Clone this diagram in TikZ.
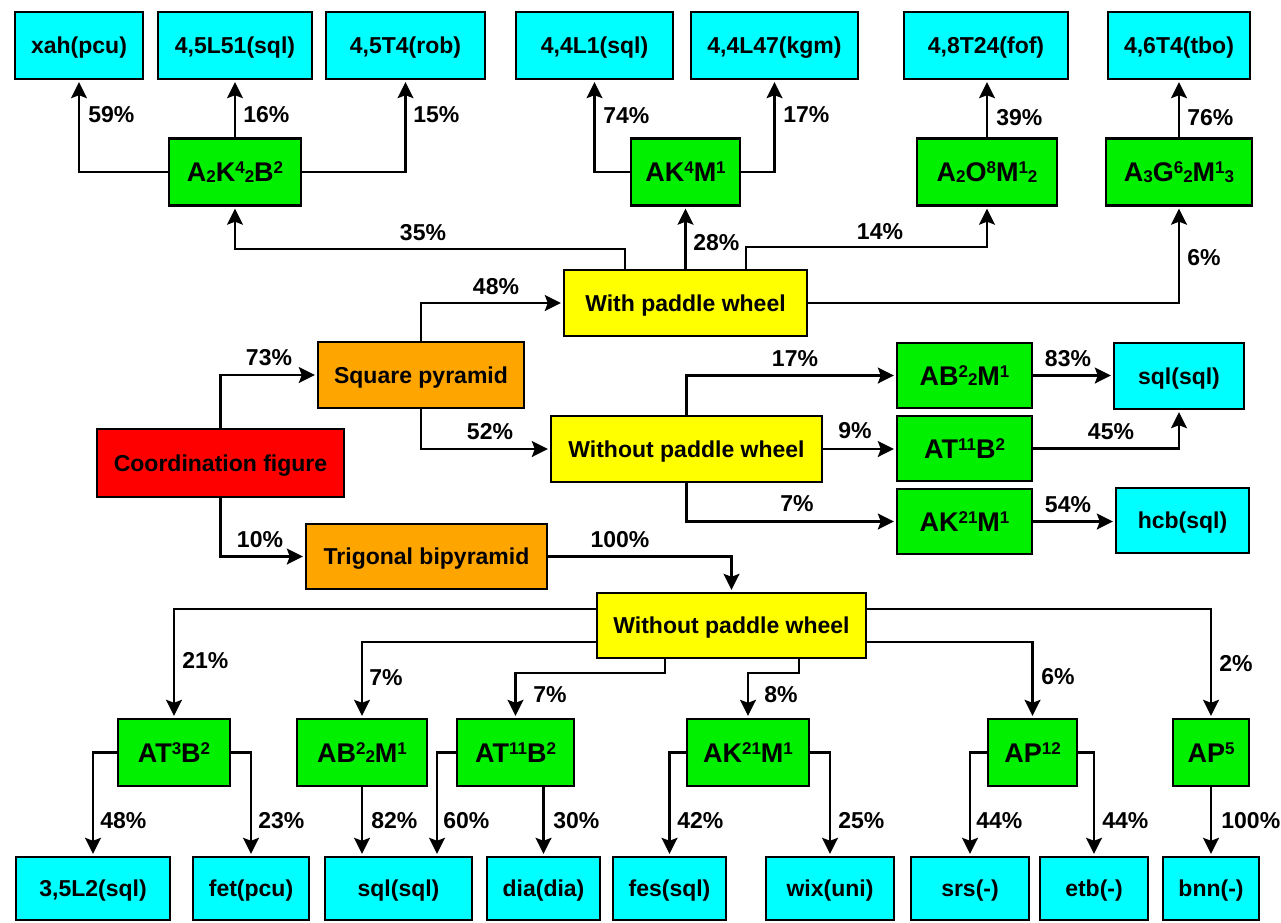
\documentclass[tikz,border=0pt]{standalone}
\usepackage{fontspec}
\setmainfont{Liberation Sans}
\usetikzlibrary{arrows.meta}
\definecolor{netcyan}{RGB}{0,255,255}
\definecolor{topogreen}{RGB}{0,240,0}
\definecolor{pwyellow}{RGB}{255,255,0}
\definecolor{geomorange}{RGB}{255,165,0}
\definecolor{rootred}{RGB}{255,0,0}
\newcommand{\labfont}{\fontsize{11.5pt}{13pt}\selectfont\bfseries}
\newcommand{\topofont}{\fontsize{13.5pt}{15pt}\selectfont\bfseries}
\newcommand{\supx}[1]{\raisebox{4pt}{\fontsize{8.5pt}{9pt}\selectfont\bfseries #1}}
\newcommand{\subx}[1]{\raisebox{-0.3pt}{\fontsize{8.5pt}{9pt}\selectfont\bfseries #1}}
\tikzset{>={Stealth[length=8pt,width=8pt,inset=1.5pt]}}

\begin{document}
\begin{tikzpicture}[x=0.5pt, y=-0.5pt,
	box/.style={draw, line width=1.2pt, inner sep=0pt, font=\labfont, text height=8.2pt, text depth=0pt},
	net/.style={box, fill=netcyan},
	topo/.style={box, fill=topogreen, font=\topofont, text height=9.8pt, minimum height=33.5pt},
	wheel/.style={box, fill=pwyellow},
	geom/.style={box, fill=geomorange},
	link/.style={->, line width=1.1pt, shorten >=1pt},
	pct/.style={font=\labfont, inner sep=0pt, text height=8.2pt, text depth=0pt}]

	\path[use as bounding box, fill=white] (0,0) rectangle (1281,922);

	% coordination figure and its branches
	\node[box, fill=rootred, minimum width=123.5pt, minimum height=34pt] (cf) at (220.5,463) {Coordination figure};
	\node[geom, minimum width=103pt, minimum height=33pt] (sp) at (421,375) {Square pyramid};
	\node[geom, minimum width=120.5pt, minimum height=32.5pt] (tb) at (426.5,556.5) {Trigonal bipyramid};
	\node[wheel, minimum width=121.5pt, minimum height=33pt] (wpw) at (685.5,303) {With paddle wheel};
	\node[wheel, minimum width=135.5pt, minimum height=33pt] (wo1) at (686.5,449) {Without paddle wheel};
	\node[wheel, minimum width=134.5pt, minimum height=32.5pt] (wo2) at (731.5,625.5) {Without paddle wheel};

	% upper topologies
	\node[topo, minimum width=66pt] (g1) at (235,172) {A\subx{2}K\supx{4}\subx{2}B\supx{2}};
	\node[topo, minimum width=54.5pt] (g2) at (685.5,172) {AK\supx{4}M\supx{1}};
	\node[topo, minimum width=70pt] (g3) at (987,172) {A\subx{2}O\supx{8}M\supx{1}\subx{2}};
	\node[topo, minimum width=73pt] (g4) at (1179,172) {A\subx{3}G\supx{6}\subx{2}M\supx{1}\subx{3}};

	\node[net, minimum width=64pt, minimum height=33.5pt] (t1) at (79,45.5) {xah(pcu)};
	\node[net, minimum width=77pt, minimum height=33.5pt] (t2) at (235,45.5) {4,5L51(sql)};
	\node[net, minimum width=79.5pt, minimum height=33.5pt] (t3) at (405.5,45.5) {4,5T4(rob)};
	\node[net, minimum width=78.5pt, minimum height=33.5pt] (t4) at (594.5,45.5) {4,4L1(sql)};
	\node[net, minimum width=83.5pt, minimum height=33.5pt] (t5) at (774.5,45.5) {4,4L47(kgm)};
	\node[net, minimum width=82pt, minimum height=33.5pt] (t6) at (986,45.5) {4,8T24(fof)};
	\node[net, minimum width=71pt, minimum height=33.5pt] (t7) at (1179,45.5) {4,6T4(tbo)};

	% middle topologies
	\node[topo, minimum width=67.5pt, minimum height=32.5pt] (m1) at (964.5,375.5) {AB\supx{2}\subx{2}M\supx{1}};
	\node[topo, minimum width=67.5pt, minimum height=32.5pt] (m2) at (964.5,448.5) {AT\supx{11}B\supx{2}};
	\node[topo, minimum width=67.5pt, minimum height=32.5pt] (m3) at (964.5,521.5) {AK\supx{21}M\supx{1}};
	\node[net, minimum width=65pt, minimum height=33pt] (r1) at (1179,376) {sql(sql)};
	\node[net, minimum width=66.5pt, minimum height=32.5pt] (r2) at (1182.5,520.5) {hcb(sql)};

	% lower topologies
	\node[topo, minimum width=56pt] (b1) at (174,752.5) {AT\supx{3}B\supx{2}};
	\node[topo, minimum width=65pt] (b2) at (362,752.5) {AB\supx{2}\subx{2}M\supx{1}};
	\node[topo, minimum width=58.5pt] (b3) at (515.5,752.5) {AT\supx{11}B\supx{2}};
	\node[topo, minimum width=61pt] (b4) at (748,752.5) {AK\supx{21}M\supx{1}};
	\node[topo, minimum width=44.5pt] (b5) at (1032.5,752.5) {AP\supx{12}};
	\node[topo, minimum width=38pt] (b6) at (1211,752.5) {AP\supx{5}};

	\node[net, minimum width=77pt, minimum height=31.5pt] (c1) at (93,888.5) {3,5L2(sql)};
	\node[net, minimum width=58pt, minimum height=31.5pt] (c2) at (251,888.5) {fet(pcu)};
	\node[net, minimum width=73.5pt, minimum height=31.5pt] (c3) at (398.5,888.5) {sql(sql)};
	\node[net, minimum width=56.5pt, minimum height=31.5pt] (c4) at (543.5,888.5) {dia(dia)};
	\node[net, minimum width=56.5pt, minimum height=31.5pt] (c5) at (669.5,888.5) {fes(sql)};
	\node[net, minimum width=64pt, minimum height=31.5pt] (c6) at (830,888.5) {wix(uni)};
	\node[net, minimum width=59pt, minimum height=31.5pt] (c7) at (970,888.5) {srs(-)};
	\node[net, minimum width=54pt, minimum height=31.5pt] (c8) at (1094,888.5) {etb(-)};
	\node[net, minimum width=48pt, minimum height=31.5pt] (c9) at (1211,888.5) {bnn(-)};

	% connectors
	\draw[link] (cf.north) |- (sp.west);
	\draw[link] (cf.south) |- (tb.west);
	\draw[link] (sp.north) |- (wpw.west);
	\draw[link] (sp.south) |- (wo1.west);
	\draw[link] (tb.east) -| (wo2.north);

	\draw[link] (625,0 |- wpw.north) -- (625,249) -| (g1.south);
	\draw[link] (wpw.north) -- (g2.south);
	\draw[link] (746,0 |- wpw.north) -- (746,247) -| (g3.south);
	\draw[link] (wpw.east) -| (g4.south);

	\draw[link] (g1.west) -| (t1.south);
	\draw[link] (g1.north) -- (t2.south);
	\draw[link] (g1.east) -| (t3.south);
	\draw[link] (g2.west) -| (t4.south);
	\draw[link] (g2.east) -| (t5.south);
	\draw[link] (g3.north) -- (g3.north |- t6.south);
	\draw[link] (g4.north) -- (t7.south);

	\draw[link] (wo1.north) |- (m1.west);
	\draw[link] (wo1.east) -- (wo1.east -| m2.west);
	\draw[link] (wo1.south) |- (m3.west);
	\draw[link] (m1.east) -- (m1.east -| r1.west);
	\draw[link] (m2.east) -| (r1.south);
	\draw[link] (m3.east) -- (m3.east -| r2.west);

	\draw[link] (wo2.west |- 0,609) -| (b1.north);
	\draw[link] (wo2.west |- 0,642) -| (b2.north);
	\draw[link] (665,0 |- wo2.south) -- (665,673) -| (b3.north);
	\draw[link] (799,0 |- wo2.south) -- (799,673) -| (b4.north);
	\draw[link] (wo2.east |- 0,642) -| (b5.north);
	\draw[link] (wo2.east |- 0,609) -| (b6.north);

	\draw[link] (b1.west) -| (c1.north);
	\draw[link] (b1.east) -| (c2.north);
	\draw[link] (b2.south) -- (b2.south |- c3.north);
	\draw[link] (b3.west) -| (437,0 |- c3.north);
	\draw[link] (c4.north |- b3.south) -- (c4.north);
	\draw[link] (b4.west) -| (c5.north);
	\draw[link] (b4.east) -| (c6.north);
	\draw[link] (b5.west) -| (c7.north);
	\draw[link] (b5.east) -| (c8.north);
	\draw[link] (b6.south) -- (c9.north);

	% percentages
	\node[pct, anchor=west] (p59) at (88,114.5) {59\%};
	\node[pct, anchor=west] (p16) at (243,114.5) {16\%};
	\node[pct, anchor=west] (p15) at (413,114.5) {15\%};
	\node[pct, anchor=west] (p74) at (603,115) {74\%};
	\node[pct, anchor=west] (p17a) at (783,114) {17\%};
	\node[pct, anchor=west] (p39) at (996,117) {39\%};
	\node[pct, anchor=west] (p76) at (1187,117) {76\%};
	\node[pct, anchor=west] (p28) at (693,242) {28\%};
	\node[pct] (p35) at (423,232) {35\%};
	\node[pct] (p14) at (880,231) {14\%};
	\node[pct, anchor=west] (p6a) at (1187,257) {6\%};
	\node[pct] (p48a) at (496,286) {48\%};
	\node[pct] (p73) at (269,357) {73\%};
	\node[pct] (p52) at (490,431) {52\%};
	\node[pct] (p10) at (260,539) {10\%};
	\node[pct] (p100a) at (620,539) {100\%};
	\node[pct] (p17b) at (795,358) {17\%};
	\node[pct] (p9) at (855,430) {9\%};
	\node[pct] (p7a) at (797,503) {7\%};
	\node[pct] (p83) at (1068,358) {83\%};
	\node[pct] (p45a) at (1111,431) {45\%};
	\node[pct] (p54) at (1068,504) {54\%};
	\node[pct, anchor=west] (p21) at (182,660) {21\%};
	\node[pct, anchor=west] (p7b) at (369,677) {7\%};
	\node[pct, anchor=west] (p7c) at (533,694) {7\%};
	\node[pct, anchor=west] (p8) at (764,694) {8\%};
	\node[pct, anchor=west] (p6b) at (1041,676) {6\%};
	\node[pct, anchor=west] (p2) at (1219,663) {2\%};
	\node[pct, anchor=west] (p48b) at (100,820) {48\%};
	\node[pct, anchor=west] (p23) at (258,820) {23\%};
	\node[pct, anchor=west] (p82) at (371,820) {82\%};
	\node[pct, anchor=west] (p60) at (443,820) {60\%};
	\node[pct, anchor=west] (p30) at (553,820) {30\%};
	\node[pct, anchor=west] (p42) at (677,820) {42\%};
	\node[pct, anchor=west] (p25) at (838,820) {25\%};
	\node[pct, anchor=west] (p44a) at (976,820) {44\%};
	\node[pct, anchor=west] (p44b) at (1102,820) {44\%};
	\node[pct, anchor=west] (p100b) at (1221,820) {100\%};

\end{tikzpicture}
\end{document}
